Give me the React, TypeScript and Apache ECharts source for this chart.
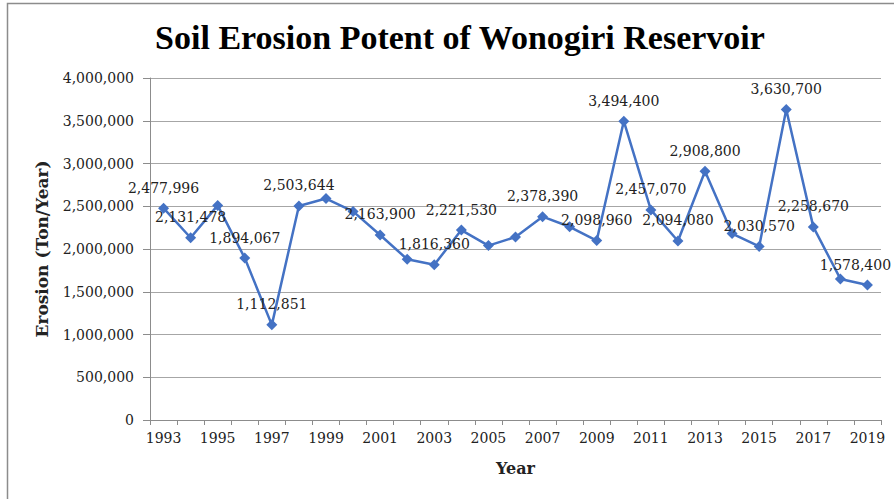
import React, { useEffect, useRef } from "react";
import * as echarts from "echarts";

const years = [
  "1993", "1994", "1995", "1996", "1997", "1998", "1999", "2000", "2001",
  "2002", "2003", "2004", "2005", "2006", "2007", "2008", "2009", "2010",
  "2011", "2012", "2013", "2014", "2015", "2016", "2017", "2018", "2019",
];

const erosion = [
  2477996, 2131478, 2510000, 1894067, 1112851, 2503644, 2590000, 2440000, 2163900,
  1880000, 1816360, 2221530, 2040000, 2140000, 2378390, 2260000, 2098960, 3494400,
  2457070, 2094080, 2908800, 2180000, 2030570, 3630700, 2258670, 1650000, 1578400,
];

// whether the point carries a data label in the reference
const labelled = [
  true, true, false, true, true, true, false, false, true,
  false, true, true, false, false, true, false, true, true,
  true, true, true, false, true, true, true, false, true,
];

const titleText = "Soil Erosion Potent of Wonogiri Reservoir";
const yAxisTitle = "Erosion (Ton/Year)";
const xAxisTitle = "Year";

const serif = "DejaVu Serif";
const fmt = (v: number) => v.toLocaleString("en-US");

export default function App() {
  const ref = useRef<HTMLDivElement>(null);
  useEffect(() => {
    if (!ref.current) return;
    const chart = echarts.init(ref.current, null, { renderer: "svg" });
    const last = erosion.length - 1;
    chart.setOption({
      animation: false,
      backgroundColor: "#ffffff",
      title: {
        text: titleText,
        left: 455,
        textAlign: "center",
        top: 15,
        textStyle: {
          fontFamily: "Liberation Serif",
          fontWeight: "bold",
          fontSize: 34,
          color: "#000000",
        },
      },
      graphic: [
        {
          type: "polyline",
          shape: { points: [[7.5, 499], [7.5, 3.5], [894, 3.5]] },
          style: { stroke: "#8c8c8c", fill: "none", lineWidth: 1.5 },
          silent: true,
        },
      ],
      grid: { left: 150, right: 13, top: 78, bottom: 79, containLabel: false },
      xAxis: {
        type: "category",
        data: years,
        boundaryGap: true,
        name: xAxisTitle,
        nameLocation: "middle",
        nameGap: 40,
        nameTextStyle: {
          fontFamily: serif,
          fontWeight: "bold",
          fontSize: 16,
          color: "#222",
        },
        axisLine: { lineStyle: { color: "#8c8c8c", width: 1 } },
        axisTick: { show: true, interval: 0, length: 5, lineStyle: { color: "#8c8c8c" } },
        axisLabel: {
          interval: 1,
          margin: 11,
          fontFamily: serif,
          fontSize: 14,
          color: "#222",
        },
        splitLine: { show: false },
      },
      yAxis: {
        type: "value",
        min: 0,
        max: 4000000,
        interval: 500000,
        name: yAxisTitle,
        nameLocation: "middle",
        nameGap: 100,
        nameRotate: 90,
        nameTextStyle: {
          fontFamily: serif,
          fontWeight: "bold",
          fontSize: 17,
          color: "#222",
        },
        axisLine: { show: true, lineStyle: { color: "#8c8c8c", width: 1 } },
        axisTick: { show: true, length: 7, lineStyle: { color: "#8c8c8c" } },
        axisLabel: {
          margin: 16,
          fontFamily: serif,
          fontSize: 14,
          color: "#222",
          formatter: (v: number) => fmt(v),
        },
        splitLine: { show: true, lineStyle: { color: "#a6a6a6", width: 1 } },
      },
      series: [
        {
          type: "line",
          data: erosion.map((v, i) => ({
            value: v,
            label: { show: labelled[i] },
          })),
          symbol: "diamond",
          symbolSize: 11,
          itemStyle: { color: "#4472c4" },
          lineStyle: { color: "#4472c4", width: 2.5 },
          label: {
            show: true,
            position: "top",
            distance: 8,
            fontFamily: serif,
            fontSize: 14,
            color: "#222",
            formatter: (p: any) => fmt(p.value),
          },
          labelLayout: (p: any) =>
            p.dataIndex === last ? { dx: -12, hideOverlap: false } : { hideOverlap: false },
        },
      ],
    });
    return () => chart.dispose();
  }, []);
  return <div ref={ref} style={{ width: 894, height: 499, position: "absolute", left: 0, top: 0 }} />;
}
